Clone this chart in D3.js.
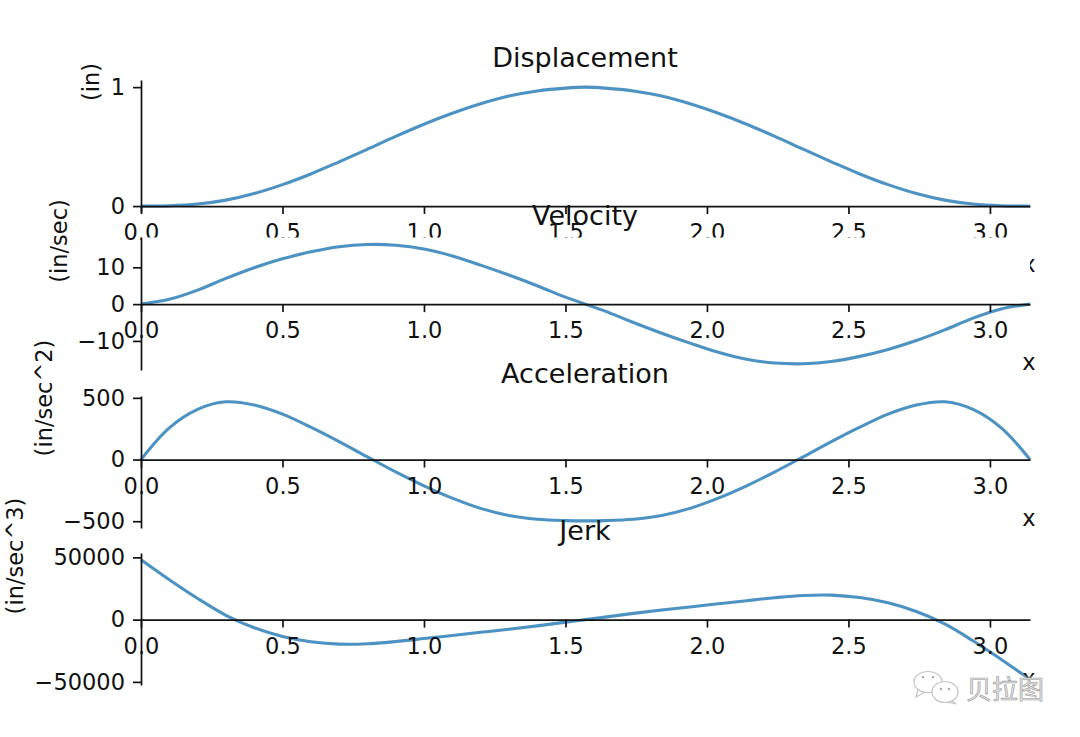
<!DOCTYPE html>
<html>
<head>
<meta charset="utf-8">
<script src="https://cdn.jsdelivr.net/npm/d3@7"></script>
<style>
  html, body { margin: 0; padding: 0; background: #fff; }
  svg { display: block; }
  text { font-family: "DejaVu Sans", sans-serif; fill: #111; }
</style>
</head>
<body>
<svg id="chart" width="1080" height="737"></svg>
<script>
// curves are mirrored around x = pi/2
const xValues = [0, 0.1, 0.2, 0.3, 0.4, 0.5, 0.6, 0.7, 0.8, 0.9, 1.0, 1.1, 1.2, 1.3, 1.4, 1.5, 1.57,
  1.64, 1.74, 1.84, 1.94, 2.04, 2.14, 2.24, 2.34, 2.44, 2.54, 2.64, 2.74, 2.84, 2.94, 3.04, 3.1416];
const displacement = [0, 0.003, 0.017, 0.05, 0.105, 0.18, 0.27, 0.372, 0.478, 0.586, 0.688, 0.78, 0.86, 0.925, 0.968, 0.992, 1,
  0.992, 0.968, 0.925, 0.86, 0.78, 0.688, 0.586, 0.478, 0.372, 0.27, 0.18, 0.105, 0.05, 0.017, 0.003, 0];
const velocity = [0, 1.3, 3.8, 7, 9.9, 12.3, 14.2, 15.6, 16.2, 16, 15, 13.1, 10.6, 7.9, 5, 1.9, 0,
  -1.9, -5, -7.9, -10.6, -13.1, -15, -16, -16.2, -15.6, -14.2, -12.3, -9.9, -7, -3.8, -1.3, 0];
const acceleration = [0, 257, 407, 468, 442, 368, 262, 145, 22, -100, -213, -313, -396, -454, -484, -495, -497,
  -495, -484, -454, -396, -313, -213, -100, 22, 145, 262, 368, 442, 468, 407, 257, 0];
const jerk = [48000, 32000, 17000, 3500, -6500, -13500, -17700, -19700, -19400, -17600, -15200, -12700, -10200, -7700, -5000, -2000, 0,
  2000, 5000, 7700, 10200, 12700, 15200, 17600, 19400, 19700, 17700, 13500, 6500, -3500, -17000, -32000, -48000];

const titles = ['Displacement', 'Velocity', 'Acceleration', 'Jerk'];
const units = ['(in)', '(in/sec)', '(in/sec^2)', '(in/sec^3)'];
const series = [displacement, velocity, acceleration, jerk];
const yTicks = [[0, 1], [-10, 0, 10], [-500, 0, 500], [-50000, 0, 50000]];
const yDomains = [[-0.05, 1.06], [-17.9, 18.1], [-555, 515], [-52500, 53500]];

const left = 141, right = 1030;
const panels = [
  { top: 80, bottom: 212, labelX: 91, labelY: 82 },
  { top: 237.5, bottom: 370, labelX: 59, labelY: 241 },
  { top: 396, bottom: 528, labelX: 44, labelY: 398 },
  { top: 553, bottom: 685, labelX: 15, labelY: 556 }
];

const svg = d3.select('#chart');
const x = d3.scaleLinear().domain([0, Math.PI]).range([left, right]);

svg.append('rect').attr('width', 1080).attr('height', 737).attr('fill', '#fff');

panels.forEach((p, i) => {
  const y = d3.scaleLinear().domain(yDomains[i]).range([p.bottom, p.top]);
  const g = svg.append('g');

  // axes background hides whatever the panel above spilled down here
  g.append('rect')
    .attr('x', left).attr('y', p.top)
    .attr('width', right - left).attr('height', p.bottom - p.top)
    .attr('fill', '#fff');

  const line = d3.line()
    .x((d, j) => x(xValues[j]))
    .y(d => y(d))
    .curve(d3.curveCatmullRom.alpha(0.5));

  g.append('path')
    .datum(series[i])
    .attr('d', line)
    .attr('fill', 'none')
    .attr('stroke', '#1f77b4')
    .attr('stroke-opacity', 0.8)
    .attr('stroke-width', 3.1);

  const xAxis = g.append('g')
    .attr('transform', `translate(0,${y(0)})`)
    .call(d3.axisBottom(x).tickValues([0, 0.5, 1, 1.5, 2, 2.5, 3]).tickFormat(d3.format('.1f')).tickSize(8).tickPadding(10).tickSizeOuter(0));

  const yAxis = g.append('g')
    .attr('transform', `translate(${left},0)`)
    .call(d3.axisLeft(y).tickValues(yTicks[i]).tickFormat(d3.format('d')).tickSize(8).tickPadding(8).tickSizeOuter(0));

  [xAxis, yAxis].forEach(a => {
    a.attr('font-family', null).attr('font-size', null);
    a.selectAll('text').style('font-size', '22.5px');
    a.selectAll('line, path').attr('stroke', '#111').attr('stroke-width', 1.7);
  });

  g.append('text')
    .attr('x', 585).attr('y', p.top - 13)
    .attr('text-anchor', 'middle')
    .style('font-size', '27px')
    .text(titles[i]);

  g.append('text')
    .attr('transform', `translate(${p.labelX},${p.labelY}) rotate(-90)`)
    .attr('text-anchor', 'middle')
    .attr('dy', '0.35em')
    .style('font-size', '22.5px')
    .text(units[i]);

  g.append('text')
    .attr('x', 1029).attr('y', y(0) + 66)
    .attr('text-anchor', 'middle')
    .style('font-size', '22.5px')
    .text('x');
});

// watermark
const mark = svg.append('g');
const blur = svg.append('defs').append('filter').attr('id', 'soft');
blur.append('feGaussianBlur').attr('stdDeviation', 2);
mark.append('rect')
  .attr('x', 912).attr('y', 678).attr('width', 136).attr('height', 30)
  .attr('fill', '#fff').attr('filter', 'url(#soft)');

const bubbles = [
  { cx: 928, cy: 682, rx: 14, ry: 10.5, tail: [[918, 689], [916, 697], [925, 692]], dots: [[923, 677], [933, 677]] },
  { cx: 945, cy: 692, rx: 13, ry: 10.5, tail: [[951, 700], [956, 704], [946, 702]], dots: [[941, 689], [949, 689]] }
];
bubbles.forEach(b => {
  mark.append('path')
    .attr('d', d3.line()(b.tail))
    .attr('fill', '#fff').attr('stroke', '#c4c4c4').attr('stroke-width', 1.2);
  mark.append('ellipse')
    .attr('cx', b.cx).attr('cy', b.cy).attr('rx', b.rx).attr('ry', b.ry)
    .attr('fill', '#fff').attr('stroke', '#c4c4c4').attr('stroke-width', 1.2);
  b.dots.forEach(d => {
    mark.append('circle').attr('cx', d[0]).attr('cy', d[1]).attr('r', 1.2).attr('fill', '#aaa');
  });
});

mark.append('text')
  .attr('x', 1005).attr('y', 699)
  .attr('text-anchor', 'middle')
  .style('font-family', '"Noto Sans CJK SC"')
  .style('font-size', '26px')
  .style('fill', '#e4e4e4')
  .style('stroke', '#999')
  .style('stroke-width', 0.6)
  .text('贝拉图');
</script>
</body>
</html>
